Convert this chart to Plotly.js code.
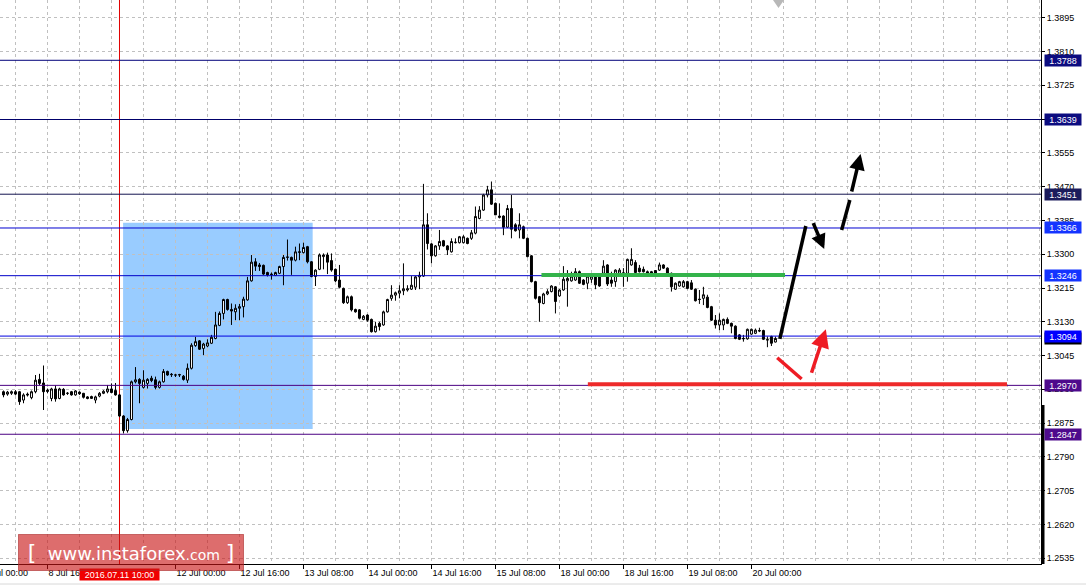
<!DOCTYPE html>
<html><head><meta charset="utf-8">
<script src="https://cdn.plot.ly/plotly-3.0.1.min.js"></script>
<style>html,body{margin:0;padding:0;background:#fff;overflow:hidden}</style>
</head><body><div id="chart" style="width:1086px;height:585px"></div>
<script>
// GBPUSD H1 candles, 8 Jul 05:00 .. 20 Jul 06:00 (bar index 0..193)
const opens=[1.2954,1.2948,1.2950,1.2954,1.2954,1.2933,1.2948,1.2939,1.2954,1.2985,
1.2976,1.2958,1.2937,1.2961,1.2937,1.2960,1.2950,1.2954,1.2946,1.2953,
1.2950,1.2941,1.2937,1.2933,1.2943,1.2950,1.2954,1.2961,1.2957,1.2946,
1.2893,1.2856,1.2884,1.2979,1.2985,1.2965,1.2975,1.2988,1.2984,1.2965,
1.2979,1.3005,1.2998,1.2996,1.2996,1.2993,1.2983,1.3013,1.3070,1.3082,
1.3063,1.3069,1.3076,1.3088,1.3121,1.3151,1.3186,1.3161,1.3155,1.3164,
1.3168,1.3185,1.3233,1.3281,1.3273,1.3272,1.3254,1.3250,1.3247,1.3252,
1.3269,1.3292,1.3292,1.3285,1.3306,1.3304,1.3319,1.3281,1.3244,1.3262,
1.3294,1.3298,1.3284,1.3262,1.3235,1.3214,1.3178,1.3193,1.3161,1.3160,
1.3136,1.3147,1.3136,1.3105,1.3126,1.3122,1.3155,1.3189,1.3197,1.3202,
1.3208,1.3210,1.3212,1.3217,1.3243,1.3245,1.3374,1.3326,1.3296,1.3321,
1.3334,1.3321,1.3306,1.3329,1.3329,1.3329,1.3340,1.3340,1.3353,1.3390,
1.3411,1.3449,1.3462,1.3428,1.3396,1.3396,1.3368,1.3415,1.3374,1.3361,
1.3369,1.3340,1.3296,1.3231,1.3193,1.3176,1.3200,1.3206,1.3218,1.3195,
1.3210,1.3233,1.3233,1.3235,1.3256,1.3235,1.3227,1.3237,1.3245,1.3248,
1.3252,1.3273,1.3235,1.3231,1.3252,1.3252,1.3252,1.3273,1.3279,1.3265,
1.3262,1.3256,1.3256,1.3259,1.3260,1.3273,1.3265,1.3252,1.3212,1.3220,
1.3218,1.3231,1.3228,1.3212,1.3187,1.3189,1.3192,1.3168,1.3134,1.3122,
1.3122,1.3136,1.3126,1.3119,1.3097,1.3087,1.3087,1.3099,1.3101,1.3108,
1.3108,1.3084,1.3093,1.3079];
const highs=[1.2957,1.2956,1.2957,1.2958,1.2956,1.2950,1.2952,1.2957,1.2996,1.2999,
1.3020,1.2962,1.2964,1.2970,1.2964,1.2963,1.2953,1.2956,1.2958,1.2955,
1.2951,1.2943,1.2944,1.2944,1.2953,1.2958,1.2971,1.2975,1.2976,1.2948,
1.2895,1.2888,1.2982,1.3016,1.2988,1.3008,1.2988,1.2994,1.2992,1.2982,
1.3011,1.3007,1.3001,1.2999,1.2999,1.2996,1.3025,1.3076,1.3092,1.3084,
1.3077,1.3086,1.3097,1.3155,1.3156,1.3188,1.3188,1.3176,1.3174,1.3175,
1.3193,1.3243,1.3298,1.3290,1.3278,1.3274,1.3256,1.3254,1.3256,1.3271,
1.3298,1.3337,1.3294,1.3319,1.3327,1.3329,1.3321,1.3283,1.3262,1.3302,
1.3302,1.3304,1.3302,1.3264,1.3273,1.3216,1.3196,1.3196,1.3163,1.3162,
1.3147,1.3149,1.3138,1.3130,1.3130,1.3158,1.3188,1.3222,1.3206,1.3222,
1.3277,1.3222,1.3245,1.3245,1.3256,1.3477,1.3403,1.3328,1.3323,1.3361,
1.3336,1.3323,1.3340,1.3340,1.3346,1.3348,1.3342,1.3361,1.3420,1.3421,
1.3452,1.3472,1.3483,1.3430,1.3428,1.3398,1.3424,1.3449,1.3378,1.3403,
1.3372,1.3342,1.3298,1.3233,1.3195,1.3203,1.3212,1.3222,1.3220,1.3212,
1.3270,1.3260,1.3256,1.3265,1.3259,1.3237,1.3247,1.3252,1.3247,1.3250,
1.3285,1.3275,1.3256,1.3262,1.3265,1.3265,1.3289,1.3315,1.3285,1.3273,
1.3269,1.3259,1.3258,1.3260,1.3279,1.3275,1.3267,1.3254,1.3229,1.3233,
1.3235,1.3233,1.3235,1.3214,1.3210,1.3218,1.3198,1.3170,1.3147,1.3151,
1.3138,1.3141,1.3128,1.3121,1.3099,1.3097,1.3113,1.3113,1.3113,1.3115,
1.3110,1.3093,1.3095,1.3093];
const lows=[1.2940,1.2944,1.2946,1.2945,1.2921,1.2925,1.2942,1.2935,1.2950,1.2970,
1.2908,1.2950,1.2930,1.2929,1.2935,1.2944,1.2946,1.2944,1.2944,1.2946,
1.2937,1.2935,1.2936,1.2925,1.2940,1.2948,1.2950,1.2950,1.2944,1.2890,
1.2849,1.2851,1.2882,1.2975,1.2925,1.2962,1.2962,1.2978,1.2960,1.2962,
1.2977,1.2994,1.2991,1.2991,1.2991,1.2982,1.2976,1.3010,1.3067,1.3059,
1.3046,1.3066,1.3074,1.3086,1.3119,1.3136,1.3158,1.3122,1.3134,1.3134,
1.3141,1.3183,1.3231,1.3258,1.3258,1.3248,1.3244,1.3236,1.3245,1.3250,
1.3222,1.3284,1.3248,1.3282,1.3285,1.3302,1.3277,1.3242,1.3220,1.3260,
1.3262,1.3250,1.3256,1.3230,1.3214,1.3175,1.3175,1.3156,1.3153,1.3136,
1.3134,1.3130,1.3103,1.3103,1.3108,1.3120,1.3153,1.3183,1.3183,1.3189,
1.3197,1.3206,1.3210,1.3210,1.3212,1.3243,1.3312,1.3277,1.3294,1.3311,
1.3319,1.3298,1.3304,1.3327,1.3327,1.3327,1.3325,1.3336,1.3350,1.3388,
1.3409,1.3443,1.3424,1.3399,1.3390,1.3348,1.3366,1.3340,1.3357,1.3340,
1.3338,1.3292,1.3229,1.3186,1.3130,1.3174,1.3197,1.3204,1.3151,1.3193,
1.3208,1.3168,1.3231,1.3233,1.3225,1.3222,1.3212,1.3228,1.3212,1.3218,
1.3250,1.3220,1.3218,1.3218,1.3250,1.3218,1.3231,1.3271,1.3252,1.3254,
1.3254,1.3250,1.3250,1.3250,1.3258,1.3263,1.3250,1.3206,1.3210,1.3218,
1.3216,1.3212,1.3210,1.3181,1.3175,1.3172,1.3164,1.3132,1.3113,1.3109,
1.3109,1.3124,1.3101,1.3086,1.3084,1.3080,1.3085,1.3097,1.3099,1.3104,
1.3084,1.3066,1.3069,1.3078];
const closes=[1.2946,1.2953,1.2954,1.2948,1.2929,1.2946,1.2946,1.2954,1.2983,1.2975,
1.2954,1.2955,1.2961,1.2936,1.2961,1.2946,1.2950,1.2946,1.2956,1.2949,
1.2940,1.2937,1.2942,1.2941,1.2950,1.2955,1.2961,1.2952,1.2946,1.2893,
1.2856,1.2884,1.2979,1.2984,1.2975,1.2983,1.2985,1.2982,1.2965,1.2979,
1.3005,1.2996,1.2997,1.2996,1.2997,1.2985,1.3013,1.3071,1.3080,1.3061,
1.3074,1.3077,1.3091,1.3122,1.3151,1.3186,1.3161,1.3157,1.3164,1.3168,
1.3187,1.3233,1.3280,1.3270,1.3269,1.3250,1.3248,1.3249,1.3254,1.3269,
1.3292,1.3293,1.3285,1.3306,1.3305,1.3317,1.3281,1.3244,1.3260,1.3298,
1.3298,1.3280,1.3260,1.3233,1.3217,1.3178,1.3193,1.3160,1.3155,1.3139,
1.3144,1.3134,1.3105,1.3119,1.3118,1.3155,1.3186,1.3197,1.3203,1.3208,
1.3213,1.3213,1.3222,1.3243,1.3247,1.3374,1.3327,1.3296,1.3321,1.3332,
1.3321,1.3311,1.3332,1.3330,1.3344,1.3344,1.3327,1.3354,1.3395,1.3411,
1.3449,1.3462,1.3426,1.3399,1.3393,1.3368,1.3415,1.3363,1.3359,1.3374,
1.3340,1.3294,1.3231,1.3189,1.3178,1.3200,1.3206,1.3220,1.3181,1.3210,
1.3237,1.3239,1.3245,1.3256,1.3227,1.3224,1.3245,1.3245,1.3223,1.3220,
1.3270,1.3225,1.3227,1.3260,1.3260,1.3253,1.3287,1.3287,1.3254,1.3256,
1.3256,1.3252,1.3252,1.3252,1.3273,1.3265,1.3252,1.3218,1.3227,1.3231,
1.3231,1.3214,1.3212,1.3183,1.3186,1.3198,1.3166,1.3134,1.3122,1.3134,
1.3136,1.3126,1.3119,1.3088,1.3086,1.3088,1.3111,1.3111,1.3109,1.3107,
1.3086,1.3085,1.3076,1.3088];

// time axis labels (bar index -> label)
const xTickIdx=[11,43,59,75,91,107,123,139,155,171,187];
const xTickText=['8 Jul 16:00','12 Jul 00:00','12 Jul 16:00','13 Jul 08:00','14 Jul 00:00','14 Jul 16:00','15 Jul 08:00','18 Jul 00:00','18 Jul 16:00','19 Jul 08:00','20 Jul 00:00'];
const firstLabel='8 Jul 00:00';
const yTicks=[1.2535,1.2620,1.2705,1.2790,1.2875,1.2960,1.3045,1.3130,1.3215,1.3300,1.3385,1.3470,1.3555,1.3640,1.3725,1.3810,1.3895];

// horizontal levels
const levelPrices=[1.3788,1.3639,1.3451,1.3366,1.3246,1.3094,1.2970,1.2847];
const levelLineColors=['#00007a','#00006a','#141450','#0000d0','#0000c8','#0000e0','#4b0082','#4b0082'];
const levelBoxColors=['#0c0c80','#0c0c80','#1c1c5c','#1434ff','#1434ff','#0000ff','#4e0a8c','#4e0a8c'];
const bidPrice=1.3088;
const crossIdx=29, crossLabel='2016.07.11 10:00';

const idx=opens.map((_,i)=>i);
const FONT='Liberation Sans, Arial, sans-serif';

const trace={type:'candlestick',x:idx,open:opens,high:highs,low:lows,close:closes,
  increasing:{line:{color:'#000',width:1},fillcolor:'#fff'},
  decreasing:{line:{color:'#000',width:1},fillcolor:'#000'},
  whiskerwidth:0,hoverinfo:'skip',showlegend:false};

const shapes=[];
// blue analysis rectangle
shapes.push({type:'rect',xref:'x',yref:'y',x0:29.9,x1:77.3,y0:1.28602,y1:1.33793,fillcolor:'#99ccff',line:{width:0},layer:'below'});
// crosshair
shapes.push({type:'line',xref:'x',yref:'paper',x0:crossIdx,x1:crossIdx,y0:0,y1:1,line:{color:'#e00000',width:1},layer:'below'});
// bid line
shapes.push({type:'line',xref:'paper',yref:'y',x0:0,x1:1,y0:bidPrice,y1:bidPrice,line:{color:'#c0c0c0',width:1},layer:'below'});
levelPrices.forEach((p,k)=>shapes.push({type:'line',xref:'paper',yref:'y',x0:0,x1:1,y0:p,y1:p,line:{color:levelLineColors[k],width:1},layer:'above'}));
// green & red support/resistance strokes
shapes.push({type:'line',xref:'x',yref:'y',x0:134.5,x1:195.4,y0:1.3248,y1:1.3248,line:{color:'#33b34a',width:4},layer:'above'});
shapes.push({type:'line',xref:'x',yref:'y',x0:146.1,x1:250.9,y0:1.2973,y1:1.2973,line:{color:'#ee2a2a',width:4},layer:'above'});
// black up stroke
shapes.push({type:'line',xref:'x',yref:'y',x0:194.1,y0:1.3087,x1:200.6,y1:1.3371,line:{color:'#000',width:3.5},layer:'above'});
// dashed stroke first segment
shapes.push({type:'line',xref:'x',yref:'y',x0:209.55,y0:1.3361,x1:211.6,y1:1.34365,line:{color:'#000',width:3.5},layer:'above'});
// red short stroke
shapes.push({type:'line',xref:'x',yref:'y',x0:193.45,y0:1.30396,x1:199.55,y1:1.29860,line:{color:'#ee1c24',width:3.5},layer:'above'});
// right thick bar, chart-shift triangle, bottom border
shapes.push({type:'rect',xref:'paper',yref:'paper',x0:1.0,x1:1044.5/1041,y0:0,y1:1-405/564,fillcolor:'#000',line:{width:0}});
shapes.push({type:'path',xref:'paper',yref:'paper',path:`M${773/1041},1 L${784/1041},1 L${778.5/1041},${1-8/564} Z`,fillcolor:'#b8b8b8',line:{width:0}});
shapes.push({type:'line',xref:'paper',yref:'paper',x0:0,x1:1086/1041,y0:1-584/564,y1:1-584/564,line:{color:'#d8d8d8',width:1}});

const ann=[];
// partial first time label
ann.push({xref:'paper',yref:'paper',x:-18.5/1041,y:1-566/564,xanchor:'left',yanchor:'top',text:firstLabel,showarrow:false,font:{family:FONT,size:9,color:'#000'}});
// level labels on the price scale
ann.push({xref:'paper',yref:'y',x:1044/1041,y:bidPrice,xanchor:'left',yanchor:'middle',text:bidPrice.toFixed(4),showarrow:false,bgcolor:'#000',width:36,height:11,borderpad:0,font:{family:FONT,size:9,color:'#fff'}});
levelPrices.forEach((p,k)=>ann.push({xref:'paper',yref:'y',x:1044/1041,y:p,xanchor:'left',yanchor:'middle',text:p.toFixed(4),showarrow:false,bgcolor:levelBoxColors[k],width:36,height:11,borderpad:0,font:{family:FONT,size:9,color:'#fff'}}));
// arrows
ann.push({xref:'x',yref:'y',axref:'x',ayref:'y',x:205.2,y:1.3313,ax:202.3,ay:1.3382,text:'',showarrow:true,arrowhead:2,arrowwidth:3.5,arrowsize:0.85,arrowcolor:'#000',standoff:0});
ann.push({xref:'x',yref:'y',axref:'x',ayref:'y',x:214.3,y:1.35522,ax:211.97,ay:1.34541,text:'',showarrow:true,arrowhead:2,arrowwidth:3.5,arrowsize:0.9,arrowcolor:'#000',standoff:0});
ann.push({xref:'x',yref:'y',axref:'x',ayref:'y',x:205.6,y:1.31111,ax:201.9,ay:1.29979,text:'',showarrow:true,arrowhead:2,arrowwidth:3.5,arrowsize:1.05,arrowcolor:'#ee1c24',standoff:0});
// crosshair time label
ann.push({xref:'x',yref:'paper',x:crossIdx,y:1-574/564,xanchor:'center',yanchor:'middle',text:crossLabel,showarrow:false,bgcolor:'#f00000',width:79,height:11,borderpad:0,font:{family:FONT,size:9,color:'#fff'}});
// watermark
ann.push({xref:'paper',yref:'paper',x:17.5/1041,y:1-534/564,xanchor:'left',yanchor:'top',showarrow:false,
  text:'<span style="font-size:22px">[</span>&nbsp; www.instaforex<span style="font-size:14px">.com</span>&nbsp;<span style="font-size:22px">]</span>',
  bgcolor:'rgba(200,20,20,0.62)',bordercolor:'rgba(170,40,40,0.6)',borderwidth:1,borderpad:0,width:224,height:35,align:'center',
  font:{family:'DejaVu Sans, sans-serif',size:18,color:'#fff'}});

const layout={width:1086,height:585,margin:{l:0,r:45,t:0,b:21},paper_bgcolor:'#fff',plot_bgcolor:'#fff',showlegend:false,
  xaxis:{range:[-0.875,259.4],tickmode:'array',tickvals:xTickIdx,ticktext:xTickText,ticks:'outside',ticklen:4,tickcolor:'#000',
    ticklabelposition:'outside right',showgrid:true,gridcolor:'#c0c0c0',griddash:'3px,3px',gridwidth:1,
    minor:{tickmode:'linear',tick0:-5,dtick:8,showgrid:true,gridcolor:'#c0c0c0',griddash:'3px,3px',ticks:''},
    showline:true,linecolor:'#000',linewidth:1,zeroline:false,rangeslider:{visible:false},fixedrange:true,
    tickfont:{family:FONT,size:9,color:'#000'}},
  yaxis:{side:'right',range:[1.25205,1.39397],tickmode:'array',tickvals:yTicks,tickformat:'.4f',ticks:'outside',ticklen:3,tickcolor:'#000',
    showgrid:true,gridcolor:'#c0c0c0',griddash:'3px,3px',gridwidth:1,showline:true,linecolor:'#000',linewidth:1,zeroline:false,fixedrange:true,
    tickfont:{family:FONT,size:9,color:'#000'}},
  shapes:shapes,annotations:ann};
Plotly.newPlot('chart',[trace],layout,{displayModeBar:false,staticPlot:true});
</script></body></html>
